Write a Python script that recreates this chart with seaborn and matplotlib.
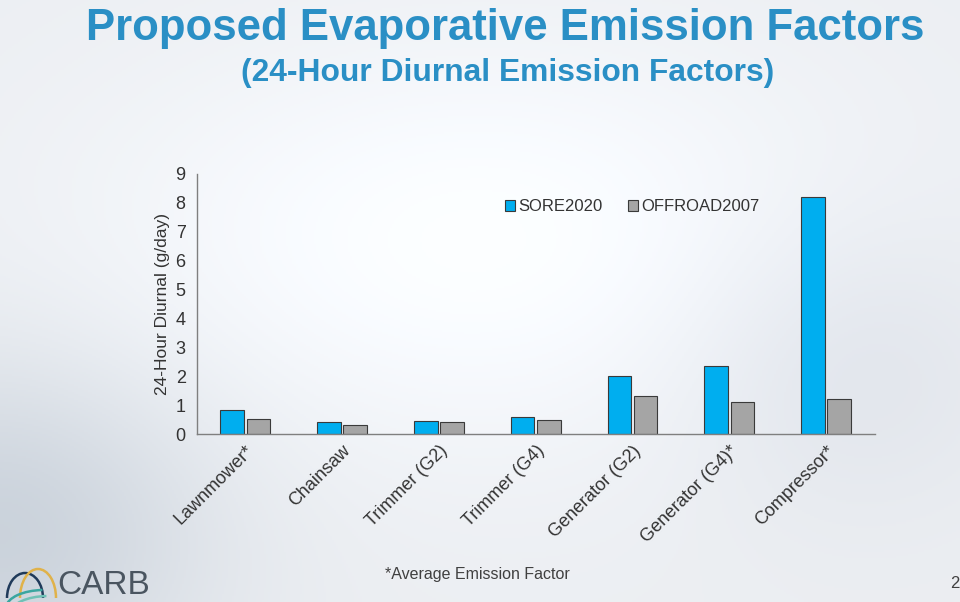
import numpy as np
import pandas as pd
import matplotlib
matplotlib.use("Agg")
import matplotlib.pyplot as plt
from matplotlib.patches import Arc
import seaborn as sns

categories = ["Lawnmower*", "Chainsaw", "Trimmer (G2)", "Trimmer (G4)",
              "Generator (G2)", "Generator (G4)*", "Compressor*"]
sore2020 = [0.83, 0.43, 0.46, 0.60, 2.00, 2.36, 8.19]
offroad2007 = [0.52, 0.31, 0.43, 0.48, 1.30, 1.11, 1.21]
series_names = ["SORE2020", "OFFROAD2007"]
yticks = [0, 1, 2, 3, 4, 5, 6, 7, 8, 9]

df = pd.DataFrame({
    "category": categories * 2,
    "value": sore2020 + offroad2007,
    "series": [series_names[0]] * len(categories) + [series_names[1]] * len(categories),
})

sns.set_theme(style="white")
plt.rcParams["font.family"] = ["Liberation Sans", "DejaVu Sans"]

fig = plt.figure(figsize=(9.6, 6.02), dpi=100)

# background: soft light gradient
bg = fig.add_axes([0, 0, 1, 1], zorder=-10)
H, W = 301, 480
yy, xx = np.mgrid[0:H, 0:W]
yy = yy / H
xx = xx / W
base = np.ones((H, W, 3)) * np.array([0.925, 0.935, 0.95])
light = np.exp(-(((xx - 0.5) / 0.4) ** 2 + ((yy - 0.4) / 0.35) ** 2))
dark = np.exp(-(((xx - 0.0) / 0.22) ** 2 + ((yy - 0.88) / 0.28) ** 2))
dark2 = np.exp(-(((xx - 0.88) / 0.18) ** 2 + ((yy - 0.6) / 0.25) ** 2))
img = base + light[..., None] * 0.065 - dark[..., None] * np.array([0.13, 0.11, 0.09]) \
    - dark2[..., None] * np.array([0.05, 0.045, 0.035])
img = np.clip(img, 0, 1)
bg.imshow(img, extent=[0, 960, 0, 602], aspect="auto", origin="upper")
bg.set_xlim(0, 960)
bg.set_ylim(0, 602)
bg.set_axis_off()
# simple CARB logo arcs
bg.add_patch(Arc((25, 4), 36, 50, theta1=0, theta2=180, color="#1f3a5a", lw=1.8))
bg.add_patch(Arc((38, 4), 36, 58, theta1=0, theta2=180, color="#e0b24a", lw=1.8))
bg.add_patch(Arc((44, -6), 76, 36, theta1=95, theta2=178, color="#3aa6a0", lw=1.8))
bg.add_patch(Arc((48, -12), 76, 36, theta1=95, theta2=178, color="#6fc1b6", lw=1.8))

ax = fig.add_axes([0.205, 0.279, 0.706, 0.432])
ax.patch.set_alpha(0)
sns.barplot(data=df, x="category", y="value", hue="series",
            palette=["#00AEEF", "#A5A5A5"], saturation=1, width=0.54, gap=0.1,
            edgecolor="#3a3a3a", linewidth=0.8, ax=ax)

ax.set_ylim(0, 9)
ax.set_yticks(yticks)
ax.set_yticklabels([str(t) for t in yticks], fontsize=13, color="#333333")
ax.set_xlim(-0.5, len(categories) - 0.5)
ax.set_xlabel("")
ax.set_ylabel("24-Hour Diurnal (g/day)", fontsize=12.5, color="#333333", labelpad=4)
ax.tick_params(axis="y", length=0, pad=8)
ax.tick_params(axis="x", length=0, pad=6)
ax.set_xticks(range(len(categories)))
ax.set_xticklabels(categories, rotation=45, ha="right", rotation_mode="anchor",
                   fontsize=13, color="#333333")
for s in ["top", "right"]:
    ax.spines[s].set_visible(False)
for s in ["left", "bottom"]:
    ax.spines[s].set_color("#7f7f7f")
    ax.spines[s].set_linewidth(1.0)

leg = ax.legend(loc="upper left", bbox_to_anchor=(0.433, 0.96), ncol=2, frameon=False,
                fontsize=12, handlelength=0.6, handleheight=0.6, handletextpad=0.2,
                columnspacing=1.5)
for t in leg.get_texts():
    t.set_color("#333333")

fig.text(0.526, 0.953, "Proposed Evaporative Emission Factors",
         ha="center", va="center", fontsize=31.5, fontweight="bold", color="#2A8FC5")
fig.text(0.529, 0.878, "(24-Hour Diurnal Emission Factors)",
         ha="center", va="center", fontsize=22.9, fontweight="bold", color="#2A8FC5")

fig.text(0.497, 0.045, "*Average Emission Factor", ha="center", va="center",
         fontsize=11.5, color="#404040")
fig.text(0.06, 0.027, "CARB", ha="left", va="center", fontsize=24, color="#4a5560")
fig.text(0.99, 0.03, "2", ha="left", va="center", fontsize=12, color="#404040")

fig.savefig("out.png", dpi=100)
